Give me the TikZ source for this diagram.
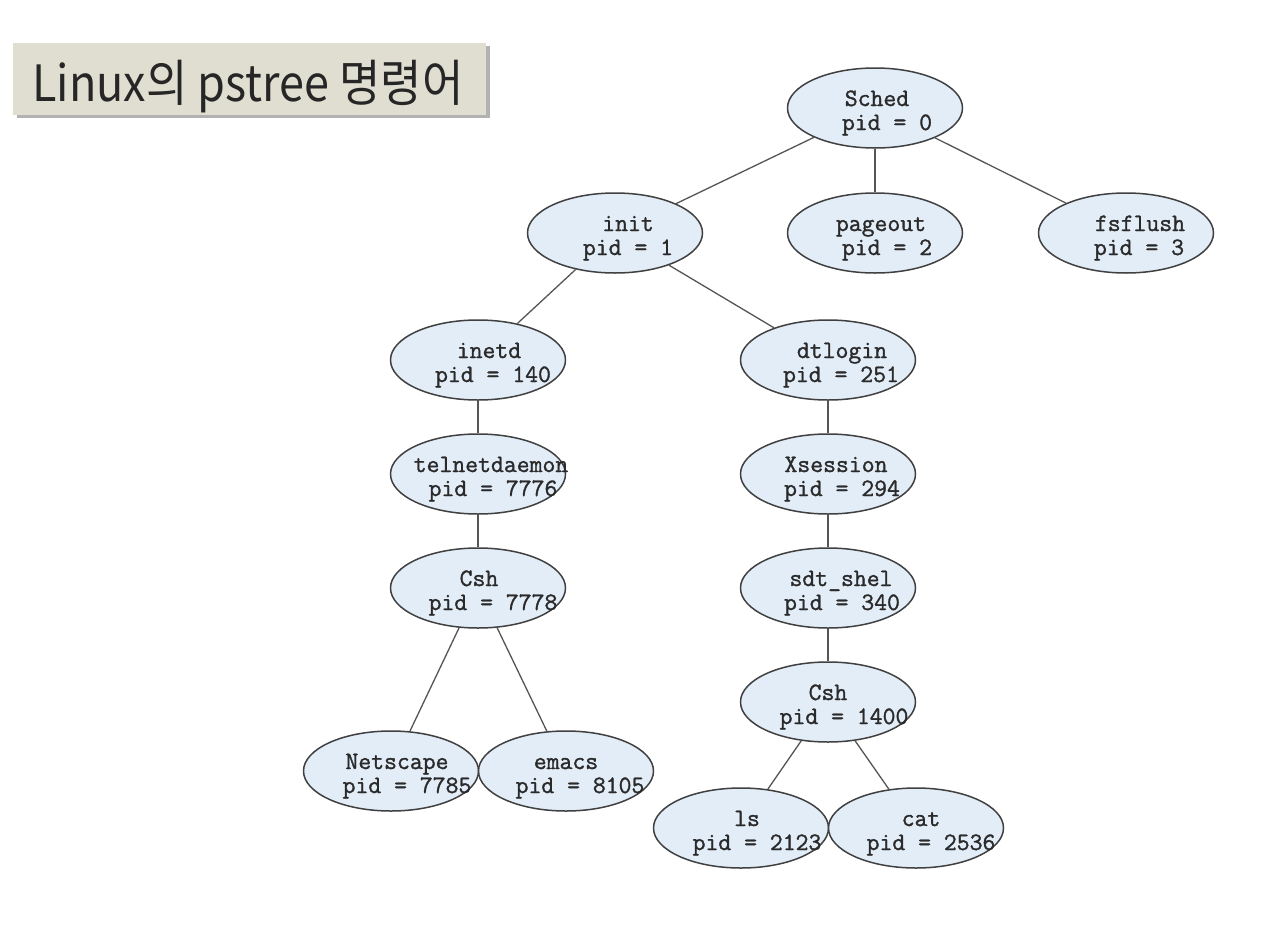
\documentclass[tikz,border=0pt]{standalone}
\usepackage{fontspec}
\newfontfamily\krfont{Noto Sans CJK KR}[FakeStretch=0.9]
\newfontfamily\pfont{Latin Modern Mono}[BoldFont={Latin Modern Mono},BoldFeatures={FakeBold=1.3}]
\usetikzlibrary{shapes.geometric,shadows}
\definecolor{procfill}{HTML}{E3EDF8}
\definecolor{procline}{HTML}{404040}
\definecolor{edgecol}{HTML}{555555}
\definecolor{txtcol}{HTML}{2A2A2A}
\definecolor{titlefill}{HTML}{DFDED0}
\newcommand\proclabel[5]{%
  \node[nm] (#1-n) at ([shift={(#2,-2)}]#1.center) {#3};
  \node[nm] (#1-p) at ([shift={(#4,22)}]#1.center) {#5};}
\begin{document}
\begin{tikzpicture}[x=1pt,y=-1pt,
  proc/.style={ellipse,draw=procline,fill=procfill,line width=1.5pt,
    minimum width=175pt,minimum height=80pt,inner sep=0pt},
  edge/.style={draw=edgecol,line width=1.3pt},
  nm/.style={font=\pfont\bfseries\fontsize{25}{27}\selectfont,text=txtcol,anchor=base,inner sep=0pt},
  titlebox/.style={fill=titlefill,inner sep=0pt,
    drop shadow={shadow xshift=4pt,shadow yshift=-3pt,opacity=0.3,fill=black}},
  titletext/.style={font=\krfont\fontsize{50}{56}\selectfont,text=black!85,anchor=base west,inner sep=0pt}]
\useasboundingbox[fill=white] (0,0) rectangle (1284,926);
% title
\path[titlebox] (13,43) rectangle (486,115);
\node[titletext] (title) at (32,101) {Linux의 pstree 명령어};
% process nodes
\node[proc] (sched) at (875,108) {};
\node[proc] (init) at (615,233) {};
\node[proc] (pageout) at (875,233) {};
\node[proc] (fsflush) at (1126,233) {};
\node[proc] (inetd) at (478,360) {};
\node[proc] (dtlogin) at (828,360) {};
\node[proc] (telnet) at (478,474) {};
\node[proc] (xsession) at (828,474) {};
\node[proc] (cshl) at (478,588) {};
\node[proc] (sdt) at (828,588) {};
\node[proc] (cshr) at (828,702) {};
\node[proc] (netscape) at (391,771) {};
\node[proc] (emacs) at (566,771) {};
\node[proc] (ls) at (741,828) {};
\node[proc] (cat) at (916,828) {};
% connectors
\draw[edge] (sched) -- (init);
\draw[edge] (sched) -- (pageout);
\draw[edge] (sched) -- (fsflush);
\draw[edge] (init) -- (inetd);
\draw[edge] (init) -- (dtlogin);
\draw[edge] (inetd) -- (telnet);
\draw[edge] (telnet) -- (cshl);
\draw[edge] (cshl) -- (netscape);
\draw[edge] (cshl) -- (emacs);
\draw[edge] (dtlogin) -- (xsession);
\draw[edge] (xsession) -- (sdt);
\draw[edge] (sdt) -- (cshr);
\draw[edge] (cshr) -- (ls);
\draw[edge] (cshr) -- (cat);
% labels
\proclabel{sched}{2}{Sched}{12}{pid = 0}
\proclabel{init}{13}{init}{13}{pid = 1}
\proclabel{pageout}{6}{pageout}{12}{pid = 2}
\proclabel{fsflush}{14}{fsflush}{13}{pid = 3}
\proclabel{inetd}{11}{inetd}{15}{pid = 140}
\proclabel{dtlogin}{14}{dtlogin}{13}{pid = 251}
\proclabel{telnet}{13}{telnetdaemon}{15}{pid = 7776}
\proclabel{xsession}{8}{Xsession}{14}{pid = 294}
\proclabel{cshl}{1}{Csh}{15}{pid = 7778}
\proclabel{sdt}{13}{sdt\_shel}{14}{pid = 340}
\proclabel{cshr}{0}{Csh}{16}{pid = 1400}
\proclabel{netscape}{6}{Netscape}{16}{pid = 7785}
\proclabel{emacs}{0}{emacs}{14}{pid = 8105}
\proclabel{ls}{6}{ls}{16}{pid = 2123}
\proclabel{cat}{5}{cat}{15}{pid = 2536}
\end{tikzpicture}
\end{document}
